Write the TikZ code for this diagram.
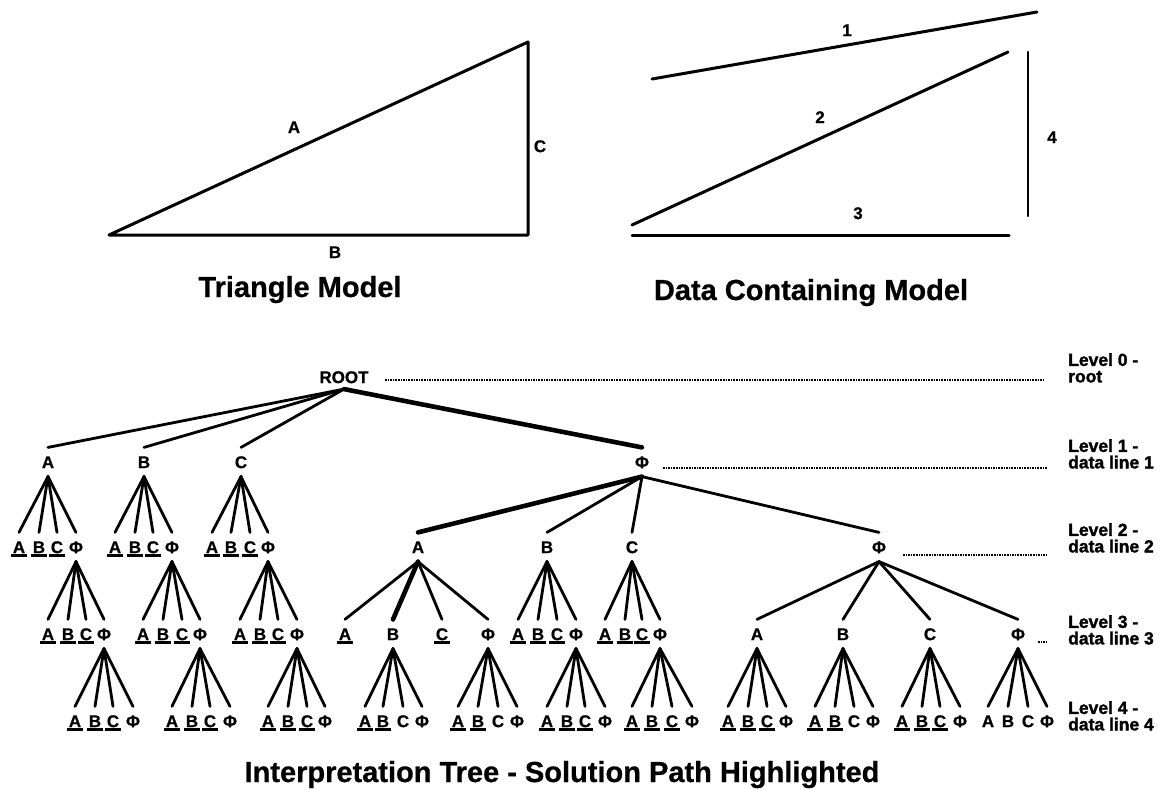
\documentclass[tikz,border=0pt]{standalone}
\usepackage{fontspec}
\setmainfont{Liberation Sans}
\newfontfamily\heavyfont{Liberation Sans Bold}[FakeBold=1.6]
\newfontfamily\boldfont{Liberation Sans Bold}[FakeBold=0.7]
\newcommand\ph{Φ}
\newcommand\ulab[1]{\setbox0\hbox{#1}\rlap{\kern-1.5pt\rule[-4.3pt]{\dimexpr\wd0+3pt\relax}{3pt}}#1}
\newcommand\fan[4]{%
  \foreach \n/\x/\lt in {#4}{%
    \node[lab] (#2\n) at (\x,#3) {\lt};
    \draw[link] (#1.south) -- (#2\n.north);
  }}
\tikzset{
  lab/.style={font=\fontsize{17}{17}\boldfont, inner sep=0pt, text height=12.2pt, text depth=0pt, outer ysep=8.5pt, outer xsep=0pt},
  link/.style={line width=2.8pt, line cap=round},
  hilite/.style={line width=4.6pt, line cap=round},
  shapeline/.style={line width=3pt, line cap=round, line join=round},
  dotline/.style={line width=2pt, dash pattern=on 1.6pt off 1pt},
  title/.style={font=\fontsize{29}{30}\boldfont, inner sep=0pt, anchor=base},
  lvl/.style={font=\fontsize{17.5}{16.5}\heavyfont, align=left, anchor=north west, inner sep=0pt}
}
\begin{document}
\begin{tikzpicture}[x=1pt,y=-1pt]
\useasboundingbox (0,0) rectangle (1160,790);
% ---------- triangle model
\coordinate (tl) at (109,235);
\coordinate (tr) at (528,235);
\coordinate (tt) at (528,42);
\draw[shapeline] (tl) -- (tr) -- (tt) -- cycle;
\node[lab] (tA) at (294,127) {A};
\node[lab] (tC) at (540,146) {C};
\node[lab] (tB) at (335,252) {B};
\node[title] (ttl1) at (300,297) {Triangle Model};
% ---------- data containing model
\coordinate (d1s) at (652,79);  \coordinate (d1e) at (1037,12);
\coordinate (d2s) at (632,225); \coordinate (d2e) at (1008,52);
\coordinate (d3s) at (632,235); \coordinate (d3e) at (1009,235);
\coordinate (d4s) at (1028,52); \coordinate (d4e) at (1028,216);
\draw[shapeline] (d1s) -- (d1e);
\draw[shapeline] (d2s) -- (d2e);
\draw[shapeline] (d3s) -- (d3e);
\draw[shapeline, line width=2.4pt] (d4s) -- (d4e);
\node[lab] (n1) at (847,30) {1};
\node[lab] (n2) at (820,117) {2};
\node[lab] (n3) at (858,213) {3};
\node[lab] (n4) at (1052,137) {4};
\node[title] (ttl2) at (811,300) {Data Containing Model};
% ---------- interpretation tree
\node[lab, outer ysep=6pt] (root) at (344,377) {ROOT};
\node[lab] (A1) at (48,462) {A};
\node[lab] (B1) at (144,462) {B};
\node[lab] (C1) at (241,462) {C};
\node[lab] (F1) at (642,462) {\ph};
\draw[link] (root.south) -- (A1.north);
\draw[link] (root.south) -- (B1.north);
\draw[link] (root.south) -- (C1.north);
\draw[hilite] (root.south) -- (F1.north);
% level 2
\fan{A1}{a1}{547}{a/19/\ulab{A}, b/39/\ulab{B}, c/57/\ulab{C}, f/76/\ph}
\fan{B1}{b1}{547}{a/115/\ulab{A}, b/135/\ulab{B}, c/153/\ulab{C}, f/172/\ph}
\fan{C1}{c1}{547}{a/212/\ulab{A}, b/231/\ulab{B}, c/250/\ulab{C}, f/268/\ph}
\node[lab] (A2) at (418,547) {A};
\node[lab] (B2) at (547,547) {B};
\node[lab] (C2) at (632,547) {C};
\node[lab] (F2) at (879,547) {\ph};
\draw[hilite] (F1.south) -- (A2.north);
\draw[link] (F1.south) -- (B2.north);
\draw[link] (F1.south) -- (C2.north);
\draw[link] (F1.south) -- (F2.north);
% level 3
\fan{a1f}{a2}{634}{a/48/\ulab{A}, b/68/\ulab{B}, c/86/\ulab{C}, f/104/\ph}
\fan{b1f}{b2}{634}{a/143/\ulab{A}, b/163/\ulab{B}, c/182/\ulab{C}, f/200/\ph}
\fan{c1f}{c2}{634}{a/240/\ulab{A}, b/260/\ulab{B}, c/278/\ulab{C}, f/297/\ph}
\node[lab] (A3a) at (345,634) {\ulab{A}};
\node[lab] (A3b) at (393,634) {B};
\node[lab] (A3c) at (442,634) {\ulab{C}};
\node[lab] (A3f) at (488,634) {\ph};
\draw[link] (A2.south) -- (A3a.north);
\draw[hilite] (A2.south) -- (A3b.north);
\draw[link] (A2.south) -- (A3c.north);
\draw[link] (A2.south) -- (A3f.north);
\fan{B2}{b3}{634}{a/518/\ulab{A}, b/538/\ulab{B}, c/557/\ulab{C}, f/576/\ph}
\fan{C2}{c3}{634}{a/605/\ulab{A}, b/625/\ulab{B}, c/642/\ulab{C}, f/660/\ph}
\fan{F2}{f3}{634}{a/757/A, b/843/B, c/930/C, f/1018/\ph}
% level 4
\fan{a2f}{a4}{721}{a/75/\ulab{A}, b/95/\ulab{B}, c/113/\ulab{C}, f/133/\ph}
\fan{b2f}{b4}{721}{a/172/\ulab{A}, b/192/\ulab{B}, c/210/\ulab{C}, f/230/\ph}
\fan{c2f}{c4}{721}{a/268/\ulab{A}, b/288/\ulab{B}, c/307/\ulab{C}, f/325/\ph}
\fan{A3b}{p4}{721}{a/365/\ulab{A}, b/383/\ulab{B}, c/403/C, f/422/\ph}
\fan{A3f}{q4}{721}{a/458/\ulab{A}, b/478/\ulab{B}, c/498/C, f/517/\ph}
\fan{b3f}{r4}{721}{a/547/\ulab{A}, b/567/\ulab{B}, c/585/\ulab{C}, f/605/\ph}
\fan{c3f}{s4}{721}{a/632/\ulab{A}, b/652/\ulab{B}, c/672/\ulab{C}, f/692/\ph}
\fan{f3a}{t4}{721}{a/728/\ulab{A}, b/748/\ulab{B}, c/767/\ulab{C}, f/786/\ph}
\fan{f3b}{u4}{721}{a/815/\ulab{A}, b/835/\ulab{B}, c/854/C, f/873/\ph}
\fan{f3c}{v4}{721}{a/902/\ulab{A}, b/922/\ulab{B}, c/940/\ulab{C}, f/960/\ph}
\fan{f3f}{w4}{721}{a/988/A, b/1008/B, c/1028/C, f/1047/\ph}
% dotted level guides
\coordinate (g0s) at (385,380);  \coordinate (g0e) at (1045,380);
\coordinate (g1s) at (663,468);  \coordinate (g1e) at (1047,468);
\coordinate (g2s) at (903,555);  \coordinate (g2e) at (1047,555);
\coordinate (g3s) at (1038,642); \coordinate (g3e) at (1046,642);
\draw[dotline] (g0s) -- (g0e);
\draw[dotline] (g1s) -- (g1e);
\draw[dotline] (g2s) -- (g2e);
\draw[dotline] (g3s) -- (g3e);
% level labels
\node[lvl] (L0) at (1068,353) {Level 0 -\\root};
\node[lvl] (L1) at (1068,439) {Level 1 -\\data line 1};
\node[lvl] (L2) at (1068,523) {Level 2 -\\data line 2};
\node[lvl] (L3) at (1068,615) {Level 3 -\\data line 3};
\node[lvl] (L4) at (1068,701) {Level 4 -\\data line 4};
% title
\node[title] (ttl3) at (562,782) {Interpretation Tree - Solution Path Highlighted};
\end{tikzpicture}
\end{document}
